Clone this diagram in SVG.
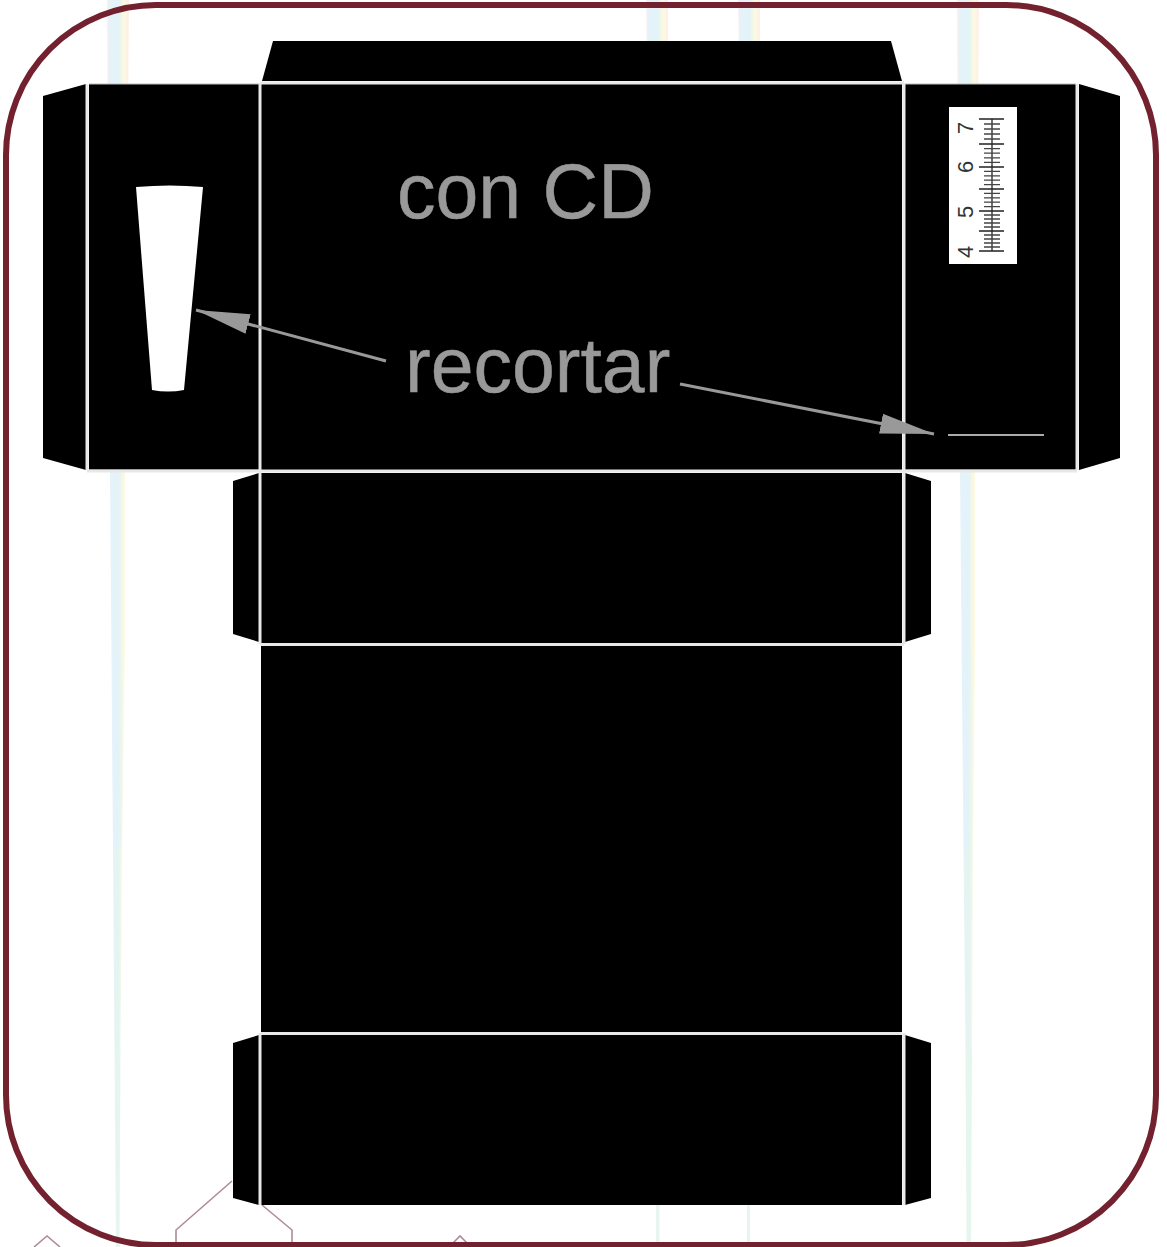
<svg xmlns="http://www.w3.org/2000/svg" width="1167" height="1247" viewBox="0 0 1167 1247">
<defs>
<linearGradient id="rb" x1="0" x2="1" y1="0" y2="0">
<stop offset="0" stop-color="#fbeeee"/><stop offset="0.12" stop-color="#e5f2fa"/><stop offset="0.55" stop-color="#e3f3f8"/><stop offset="0.68" stop-color="#f2f8e6"/><stop offset="0.78" stop-color="#fdf9df"/><stop offset="1" stop-color="#fdeeea"/>
</linearGradient>
<linearGradient id="rb2" x1="0" x2="1" y1="0" y2="0">
<stop offset="0" stop-color="#e6f4f2"/><stop offset="0.6" stop-color="#e4f4f2"/><stop offset="1" stop-color="#f6fae4"/>
</linearGradient>
<marker id="ah" markerUnits="userSpaceOnUse" markerWidth="56" markerHeight="24" refX="54" refY="12" orient="auto"><path d="M0 2L54 12L0 22Z" fill="#999"/></marker>
</defs>
<style>
.p{fill:#000}
.f{stroke:#e8e8e8;stroke-width:3;fill:none}
.e{stroke:#bbb;stroke-width:1;fill:none}
.t{font-family:"Liberation Sans",Arial,sans-serif;fill:#999;font-size:77px;stroke:#999;stroke-width:.5}
.n{font-family:"Liberation Sans",Arial,sans-serif;fill:#333;font-size:22px}
.a{stroke:#999;stroke-width:3;fill:none;marker-end:url(#ah)}
.g{stroke:#b08a98;stroke-width:1.6;fill:none}
.b{fill:url(#rb)}
.c{fill:url(#rb2)}
.d{fill:#e6f6ee}
</style>
<rect width="1167" height="1247" fill="#fff"/>
<g id="bands">
<path class="b" d="M107 0H129L125 470V640L122 850H113L110 470Z"/>
<path class="c" d="M113 850H122L120.500 1050H114.500Z"/>
<path class="d" d="M114.500 1050H120.500L119.500 1247H116Z"/>
<path class="b" d="M957 0H979L975 470V640L973 850H963.500L960 470Z"/>
<path class="c" d="M963.500 850H973L972 1050H965.500Z"/>
<path class="d" d="M965.500 1050H972L971 1247H966.500Z"/>
<path class="b" d="M646 0H668V60H647Z"/>
<path class="b" d="M738 0H760V60H739Z"/>
<path class="d" d="M656 1200H659.500V1247H656Z"/>
<path class="d" d="M747 1200H750V1247H747Z"/>
</g>
<g id="background-lines">
<path class="g" d="M232 1181L176 1230V1247M262 1205L292 1230V1247M34 1247L47 1236L60 1247M453 1243L460 1236L467 1243"/>
</g>
<g id="top-flap"><path class="p" d="M262 81L273 41H891L902 81Z"/></g>
<g id="left-flap"><path class="p" d="M43 96L86 84V470L43 458Z"/></g>
<g id="left-panel"><rect class="p" x="89" y="84" width="170" height="386"/>
<path fill="#fff" d="M136 187Q170 184 203 187L184 390Q168 393 152 390Z"/></g>
<g id="main-panel"><rect class="p" x="261" y="84" width="641" height="386"/></g>
<g id="right-panel"><rect class="p" x="905" y="84" width="171" height="386"/></g>
<g id="right-flap"><path class="p" d="M1079 84L1120 96V458L1079 470Z"/></g>
<g id="middle-panel"><rect class="p" x="261" y="473" width="641" height="170"/></g>
<g id="middle-left-flap"><path class="p" d="M233 481L259 473V642L233 634Z"/></g>
<g id="middle-right-flap"><path class="p" d="M905 473L931 481V634L905 642Z"/></g>
<g id="large-panel"><rect class="p" x="261" y="646" width="641" height="386"/></g>
<g id="bottom-panel"><rect class="p" x="261" y="1035" width="641" height="170"/></g>
<g id="bottom-left-flap"><path class="p" d="M233 1043L259 1035V1205L233 1198Z"/></g>
<g id="bottom-right-flap"><path class="p" d="M905 1035L931 1043V1198L905 1205Z"/></g>
<g id="ruler">
<rect x="949" y="107" width="68" height="157" fill="#fff"/>
<path stroke="#222" stroke-width="1.300" fill="none" d="M992 119V251M979 119H1004M979 144H1004M979 167H1004M979 189H1004M979 211H1004M979 231H1004M979 251H1004"/>
<path stroke="#444" stroke-width="1.300" fill="none" d="M984 124H1000M984 129H1000M984 134H1000M984 139H1000M984 148.600H1000M984 153.200H1000M984 157.800H1000M984 162.400H1000M984 171.400H1000M984 175.800H1000M984 180.200H1000M984 184.600H1000M984 193.400H1000M984 197.800H1000M984 202.200H1000M984 206.600H1000M984 215H1000M984 219H1000M984 223H1000M984 227H1000M984 235H1000M984 239H1000M984 243H1000M984 247H1000"/>
<text transform="translate(973 134) rotate(-90)" class="n">7</text>
<text transform="translate(973 173) rotate(-90)" class="n">6</text>
<text transform="translate(973 218) rotate(-90)" class="n">5</text>
<text transform="translate(973 258) rotate(-90)" class="n">4</text>
</g>
<g id="fold-lines">
<path class="e" d="M89 84H259M905 84H1076M89 470H259M905 470H1076"/>
<path class="f" d="M87 84V470M1077 84V470M260 83V644M904 83V644M260 1033V1205M904 1033V1205M260 83H904M87 471H1077M260 644.500H904M261 1033.500H902"/>
</g>
<g id="labels">
<text class="t" x="397" y="218">con CD</text>
<text class="t" x="405" y="392">recortar</text>
</g>
<g id="connectors">
<path class="a" d="M386 361L196 310"/>
<path class="a" d="M680 384L934 434"/>
<path d="M948 435H1044" stroke="#aaa" stroke-width="2.2"/>
</g>
<g id="frame"><rect x="6" y="5" width="1150" height="1240" rx="150" ry="150" fill="none" stroke="#73212e" stroke-width="6"/></g>
</svg>
